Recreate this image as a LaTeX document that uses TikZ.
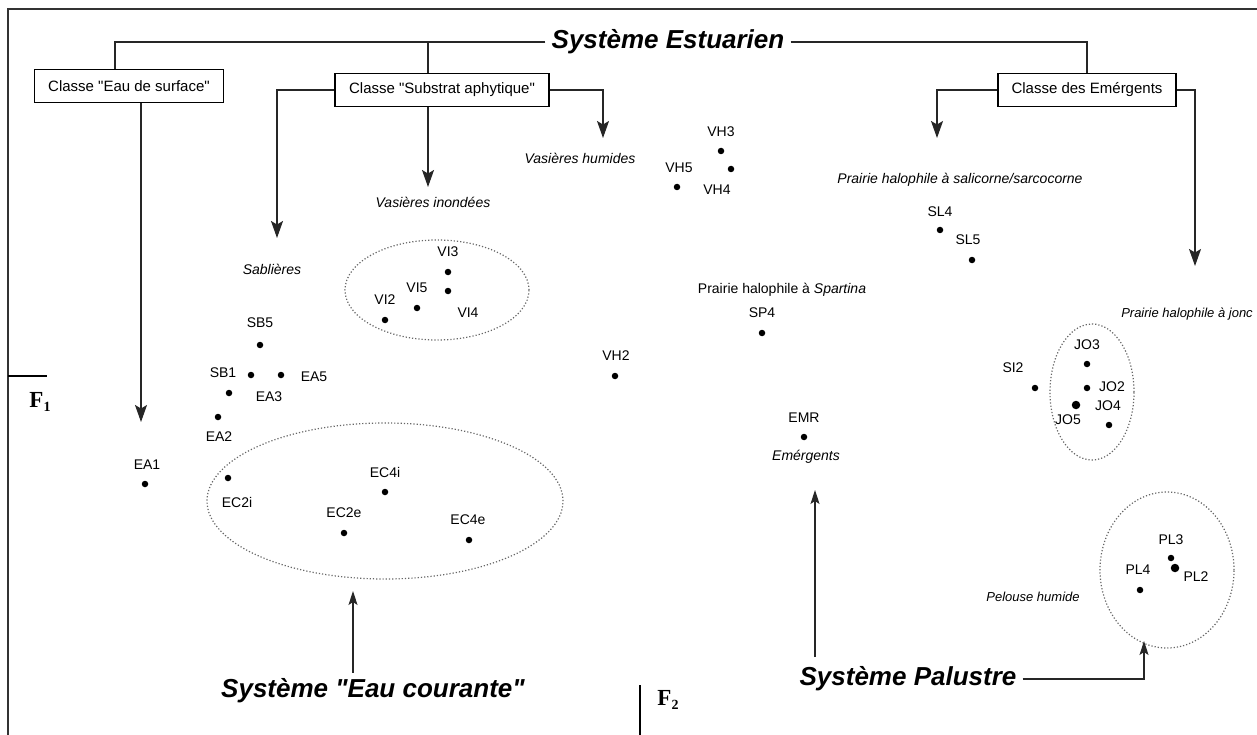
\documentclass[tikz,border=0pt]{standalone}
\usepackage{fontspec}
\setmainfont{Liberation Sans}[Ligatures=TeXOff]
\newfontfamily\serifF{Liberation Serif}
\usetikzlibrary{arrows.meta,shapes.geometric,calc}
\tikzset{
  conn/.style={line width=1.1pt, draw=black!85},
  arrA/.style={conn, -{Stealth[length=17pt,width=12pt,inset=3.5pt]}},
  arrB/.style={conn, -{Stealth[length=14pt,width=9pt,inset=3pt]}},
  cbox/.style={draw, line width=1.1pt, minimum height=33pt, inner sep=2pt, font=\fontsize{15}{17}\selectfont},
  big/.style={font=\fontsize{26}{30}\selectfont\bfseries\itshape, inner sep=6pt},
  lab/.style={font=\fontsize{14}{16}\selectfont, inner sep=0pt},
  ilab/.style={font=\fontsize{14}{16}\selectfont\itshape, inner sep=0pt},
  dot/.style={circle, fill=black, inner sep=0pt, minimum size=6.5pt},
  bdot/.style={circle, fill=black, inner sep=0pt, minimum size=8.5pt},
  ell/.style={ellipse, draw=black!60, dotted, line width=1.2pt, inner sep=0pt},
  axlab/.style={inner sep=0pt, font=\serifF\bfseries\fontsize{23}{23}\selectfont},
}
\begin{document}
\begin{tikzpicture}[x=1pt,y=-1pt]
\useasboundingbox (0,0) rectangle (1257,735);
% frame
\draw[line width=1.4pt, black!80] (8,735) -- (8,9) -- (1257,9);
% axes marks
\coordinate (f1a) at (8,376);
\coordinate (f1b) at (47,376);
\draw[line width=1.2pt] (f1a) -- (f1b);
\node[axlab] (F1) at (40,402) {F\raisebox{-4pt}{\fontsize{14}{14}\selectfont 1}};
\coordinate (f2a) at (640,685);
\coordinate (f2b) at (640,735);
\draw[line width=1.2pt] (f2a) -- (f2b);
\node[axlab] (F2) at (668,700) {F\raisebox{-4pt}{\fontsize{14}{14}\selectfont 2}};

% title and classes
\node[big] (title) at (668,42) {Système Estuarien};
\node[cbox, minimum width=189pt] (b1) at (129,86) {Classe "Eau de surface"};
\node[cbox, minimum width=214pt] (b2) at (442,90) {Classe "Substrat aphytique"};
\node[cbox, minimum width=178pt] (b3) at (1087,90) {Classe des Emérgents};

\coordinate (j2) at (428,42);
\draw[conn] (title.west) -| ([xshift=-14pt]b1.north);
\draw[conn] (j2) -- (j2 |- b2.north);
\draw[conn] (title.east) -| (b3.north);

% arrow targets
\coordinate (tEA1) at (141,422);
\coordinate (tSab) at (277,238);
\coordinate (tVI) at (428,187);
\coordinate (tVH) at (603,138);
\coordinate (tSL) at (937,138);
\coordinate (tJO) at (1195,266);

\draw[arrA] ([xshift=12pt]b1.south) -- (tEA1);
\draw[arrA] (b2.west) -| (tSab);
\draw[arrA] (b2.south -| tVI) -- (tVI);
\draw[arrA] (b2.east) -| (tVH);
\draw[arrA] (b3.west) -| (tSL);
\draw[arrA] (b3.east) -| (tJO);

% category labels
\node[ilab] (sab) at (272,269) {Sablières};
\node[ilab] (vin) at (433,202) {Vasières inondées};
\node[ilab] (vhu) at (580,158) {Vasières humides};
\node[ilab] (psal) at (960,180) {Prairie halophile à salicorne/sarcocorne};
\node[lab] (pspa) at (782,290) {Prairie halophile à \textit{Spartina}};
\node[ilab, font=\fontsize{13}{15}\selectfont\itshape] (pjo) at (1187,314) {Prairie halophile à jonc};
\node[ilab] (emer) at (806,457) {Emérgents};
\node[ilab, font=\fontsize{13}{15}\selectfont\itshape] (pel) at (1033,597) {Pelouse humide};

% ellipses
\node[ell, minimum width=184pt, minimum height=100pt] (eVI) at (437,290) {};
\node[ell, minimum width=356pt, minimum height=156pt] (eEC) at (385,501) {};
\node[ell, minimum width=84pt, minimum height=136pt] (eJO) at (1092,392) {};
\node[ell, minimum width=134pt, minimum height=156pt] (ePL) at (1167,570) {};

% points
\foreach \n/\lx/\ly/\dx/\dy in {
  VI3/448/252/448/272, VI5/417/288/448/291, VI2/385/300/417/308, VI4/468/313/385/320,
  SB5/260/323/260/345, SB1/223/373/251/375, EA5/314/377/281/375, EA3/269/397/229/393,
  EA2/219/437/218/417, EA1/147/465/145/484,
  EC2i/237/502/228/478, EC4i/385/472/385/492, EC2e/344/513/344/533, EC4e/468/520/469/540,
  VH2/616/356/615/376, VH3/721/132/721/151, VH5/679/168/731/169, VH4/717/190/677/187,
  SL4/940/212/940/230, SL5/968/240/972/260, SP4/762/313/762/333, EMR/804/418/804/437,
  SI2/1013/368/1035/388, JO3/1087/345/1087/364, JO2/1112/387/1087/388,
  JO5/1068/420/1109/425, PL3/1171/540/1171/558, PL4/1138/570/1140/590}{
  \node[lab] (l\n) at (\lx,\ly) {\n};
  \node[dot] (d\n) at (\dx,\dy) {};
}
\node[lab] (lJO4) at (1108,406) {JO4};
\node[bdot] (dJO4) at (1076,405) {};
\node[lab] (lPL2) at (1196,577) {PL2};
\node[bdot] (dPL2) at (1175,568) {};

% systems
\node[big] (eauc) at (373,691) {Système "Eau courante"};
\node[big] (palu) at (908,679) {Système Palustre};
\coordinate (tEC) at (353,591);
\coordinate (emB) at (815,657);
\coordinate (tEM) at (815,490);
\coordinate (tPL) at (1144,641);
\draw[arrB] (eauc.north -| tEC) -- (tEC);
\draw[arrB] (emB) -- (tEM);
\draw[arrB] (palu.east) -| (tPL);
\end{tikzpicture}
\end{document}
